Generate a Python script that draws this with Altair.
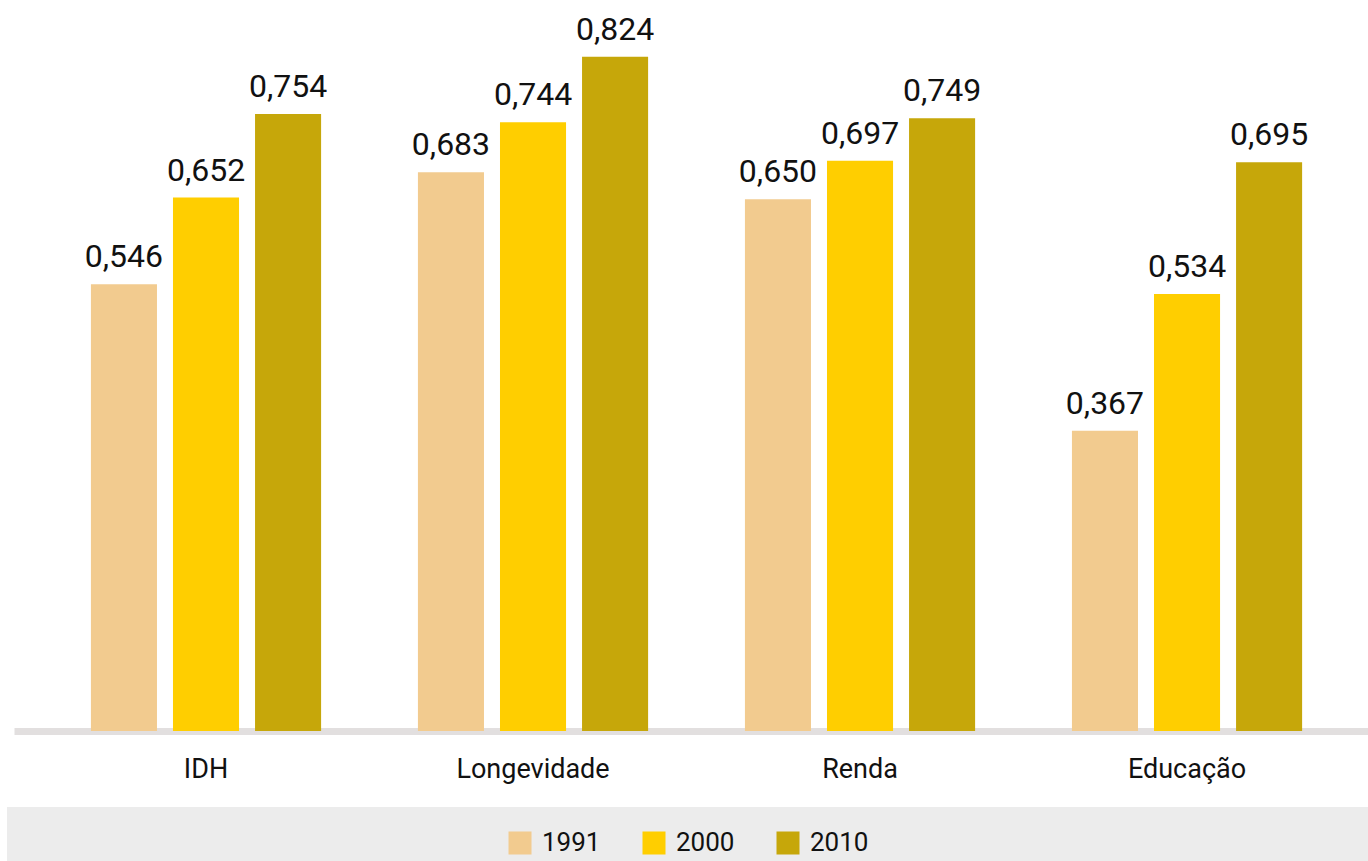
import altair as alt
import pandas as pd

# Índice de Desenvolvimento Humano e componentes, por ano
categories = ["IDH", "Longevidade", "Renda", "Educação"]
years = ["1991", "2000", "2010"]
values_1991 = [0.546, 0.683, 0.650, 0.367]
values_2000 = [0.652, 0.744, 0.697, 0.534]
values_2010 = [0.754, 0.824, 0.749, 0.695]
colors = ["#F2CB8F", "#FFCE00", "#C6A70A"]

rows = []
for year, series in zip(years, [values_1991, values_2000, values_2010]):
    for cat, v in zip(categories, series):
        rows.append({
            "indicador": cat,
            "ano": year,
            "valor": v,
            "rotulo": f"{v:.3f}".replace(".", ","),
        })
df = pd.DataFrame(rows)

W, H = 1354, 720
FONT = "Roboto"
INK = "#111111"

x = alt.X(
    "indicador:N",
    sort=categories,
    scale=alt.Scale(paddingInner=0, paddingOuter=0.0703, align=0.62),
    axis=alt.Axis(
        title=None, labelAngle=0, ticks=False, tickSize=0, labelPadding=25,
        labelFontSize=27, labelFont=FONT, labelColor=INK,
        domainColor="#E2DFDF", domainWidth=7, grid=False,
    ),
)
xo = alt.XOffset("ano:N", sort=years, scale=alt.Scale(paddingInner=0.195, paddingOuter=0.59))
y = alt.Y("valor:Q", scale=alt.Scale(domain=[0, 0.88]), axis=None)
color = alt.Color(
    "ano:N",
    sort=years,
    scale=alt.Scale(domain=years, range=colors),
    legend=alt.Legend(
        title=None, orient="none", legendX=493, legendY=819, direction="horizontal",
        symbolType="square", symbolSize=529, symbolStrokeWidth=0, symbolOpacity=1,
        labelFontSize=26, labelFont=FONT, labelColor=INK, labelOffset=9,
        columnPadding=40, padding=0,
    ),
)

# faixa cinza atrás da legenda
band = alt.Chart(alt.Data(values=[{}])).mark_rect(color="#ECECEC").encode(
    x=alt.value(-7), x2=alt.value(W), y=alt.value(796), y2=alt.value(850)
)

bars = alt.Chart(df).mark_bar().encode(x=x, xOffset=xo, y=y, color=color)

labels = alt.Chart(df).mark_text(
    dy=-17, baseline="alphabetic", fontSize=32, font=FONT, color=INK
).encode(x=x, xOffset=xo, y=y, text="rotulo:N")

chart = alt.layer(band, bars, labels).properties(
    width=W, height=H,
    autosize=alt.AutoSizeParams(type="none"),
    padding={"left": 14, "top": 11, "right": 0, "bottom": 130},
    background="white",
).configure_view(stroke=None)

chart.save("out.html", embed_options={"renderer": "svg", "actions": False})
